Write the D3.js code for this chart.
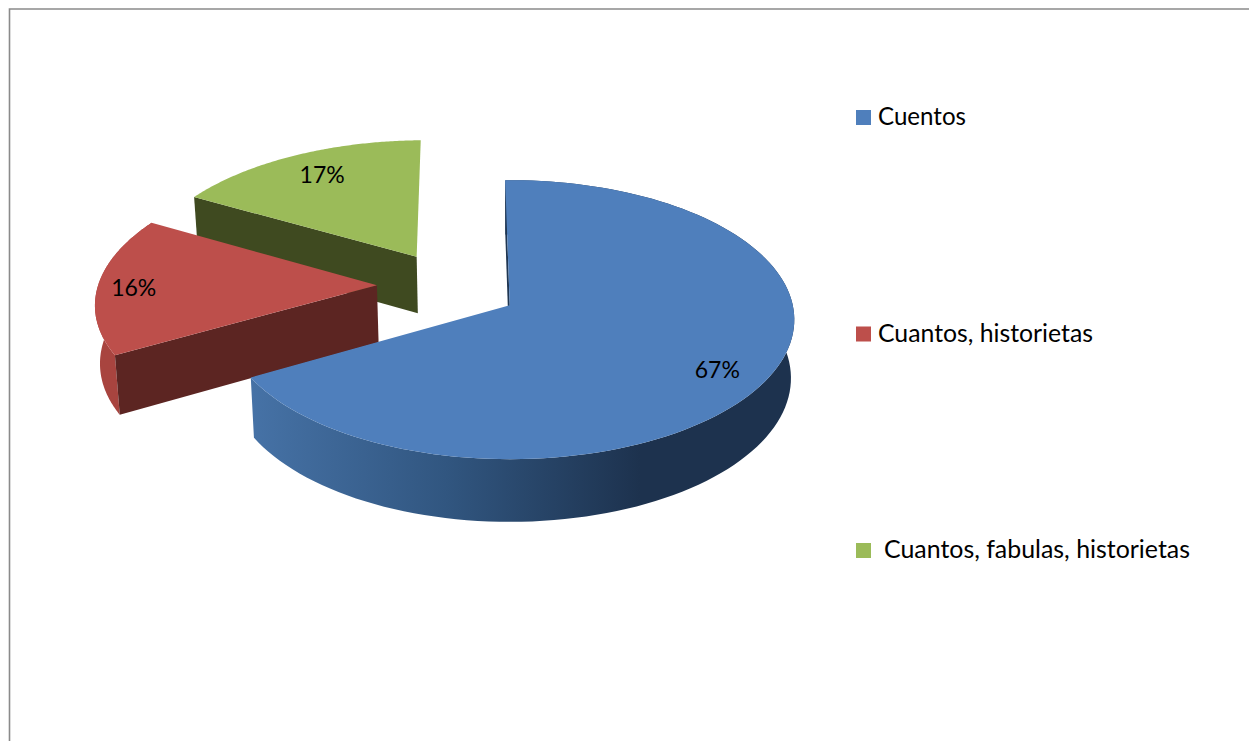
<!DOCTYPE html>
<html><head><meta charset="utf-8">
<script src="https://cdn.jsdelivr.net/npm/d3@7/dist/d3.min.js"></script>
<style>html,body{margin:0;padding:0;background:#fff}svg{display:block}</style>
</head><body><svg id="c" width="1249" height="741"></svg>
<script>
const categories = ["Cuentos", "Cuantos, historietas", "Cuantos, fabulas, historietas"];
const values = [67, 16.4, 16.6];
const labels = ["67%", "16%", "17%"];
const topColors = ["#4f7fbc", "#bd4f4b", "#9bbb59"];
const wallColors = ["#1f3652", "#5c2522", "#3f4a20"];
const rimColors = ["url(#blueRim)", "#a8443f", "none"];

const svg = d3.select("#c");
const FONT = "Lato, 'Noto Sans', sans-serif";

// frame
svg.append("path").attr("d", "M9.5,741V9H1249").attr("fill", "none").attr("stroke", "#8a8a8a").attr("stroke-width", 1.6);

// gradient of the blue rim
const grad = svg.append("defs").append("linearGradient").attr("id", "blueRim")
  .attr("gradientUnits", "userSpaceOnUse").attr("x1", 252).attr("x2", 640).attr("y1", 0).attr("y2", 0);
grad.append("stop").attr("offset", 0).attr("stop-color", "#4672a6");
grad.append("stop").attr("offset", 0.5).attr("stop-color", "#315680");
grad.append("stop").attr("offset", 1).attr("stop-color", "#1d324e");

// pie layout
const TAU = 2 * Math.PI;
const pie = d3.pie().sort(null).value(d => d).startAngle(-1 / 360 * TAU).endAngle(359 / 360 * TAU);
const arcs = pie(values);

// world plane → screen with perspective
const K = 0.104, EXPLODE = 0.258, EXPLODE_TURN = 2.5 / 360 * TAU, C = [-0.216, -0.136], HEIGHT = 58;
const LABEL_R = [0.83, 0.87, 0.79], LABEL_TURN = [3, -1, 1];
const xS = d3.scaleLinear().domain([-1, 1]).range([509 - 283, 509 + 283]);
const yS = d3.scaleLinear().domain([-1, 1]).range([305 - 138, 305 + 138]);
function project(u, v, base) {
  const s = 1 / (1 - K * v);
  const pu = u * s, pv = v * s;
  const x = xS(pu);
  return base ? [515 + (x - 515) * 0.988, yS(pv * 1.03) + HEIGHT] : [x, yS(pv)];
}
function world(a, r, theta) {
  const mid = (a.startAngle + a.endAngle) / 2 + EXPLODE_TURN;
  return [C[0] + EXPLODE * Math.sin(mid) + r * Math.sin(theta),
          C[1] - EXPLODE * Math.cos(mid) - r * Math.cos(theta)];
}
const line = d3.line();
function rim(a, base) {
  return d3.range(0, 121).map(i => {
    const t = a.startAngle + (a.endAngle - a.startAngle) * i / 120;
    const w = world(a, 1, t);
    return project(w[0], w[1], base);
  });
}
function apex(a, base) { const w = world(a, 0, 0); return project(w[0], w[1], base); }

// draw back to front
[2, 1, 0].forEach(i => {
  const a = arcs[i];
  const g = svg.append("g");
  const top = rim(a, false), bot = rim(a, true);
  g.append("path").attr("d", line(top.concat(bot.slice().reverse())) + "Z").attr("fill", rimColors[i]);
  g.append("path")
    .attr("d", line([apex(a, false), top[0], bot[0], apex(a, true)]) + "Z")
    .attr("fill", wallColors[i]);
  g.append("path").attr("d", line([apex(a, false)].concat(top)) + "Z").attr("fill", topColors[i]);
});

// data labels
arcs.forEach((a, i) => {
  const mid = (a.startAngle + a.endAngle) / 2;
  const w = world(a, LABEL_R[i], mid + LABEL_TURN[i] / 360 * TAU);
  const p = project(w[0], w[1], false);
  svg.append("text").attr("x", p[0]).attr("y", p[1]).attr("dy", "0.35em")
    .attr("text-anchor", "middle").attr("font-family", FONT).attr("font-size", 23)
    .attr("fill", "#000").text(labels[i]);
});

// legend
const legendY = d3.scalePoint().domain(categories).range([117.5, 550.5]);
const legendTextX = [878, 878, 884];
const legendTextW = [88, 215, 306];
categories.forEach((c, i) => {
  const y = legendY(c);
  svg.append("rect").attr("x", 856).attr("y", y - 7.5).attr("width", 15).attr("height", 15).attr("fill", topColors[i]);
  svg.append("text").attr("x", legendTextX[i]).attr("y", y + 7.5)
    .attr("font-family", FONT).attr("font-size", 24.5).attr("fill", "#000")
    .attr("textLength", legendTextW[i]).attr("lengthAdjust", "spacingAndGlyphs").text(c);
});
</script></body></html>
